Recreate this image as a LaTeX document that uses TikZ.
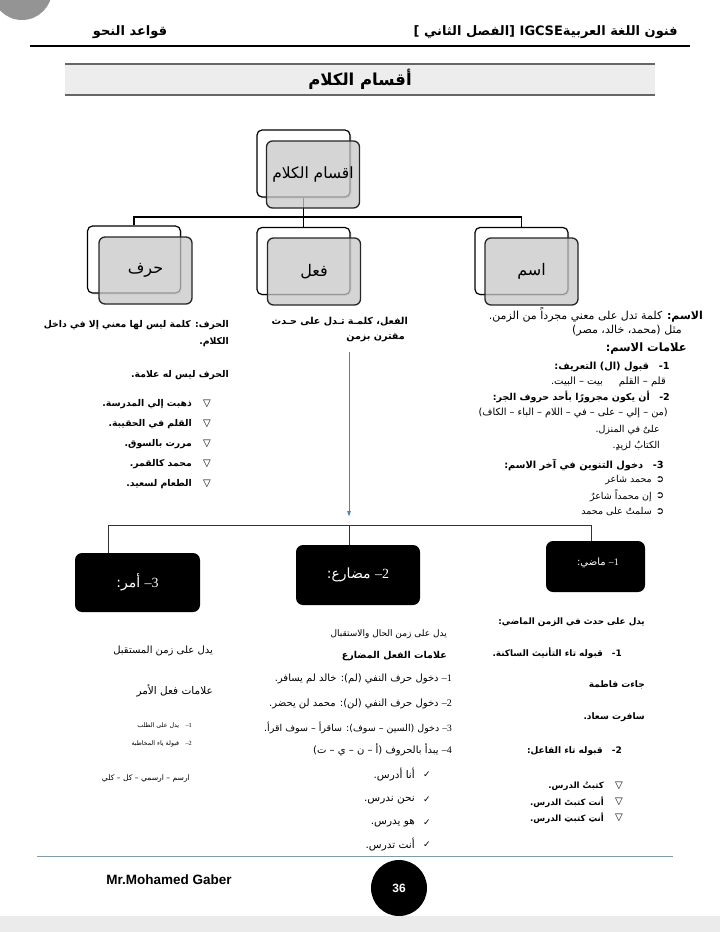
\documentclass[tikz,border=0pt]{standalone}
\usepackage{fontspec}
\setmainfont{Liberation Sans}
\newfontfamily\ar[Script=Arabic]{DejaVu Sans}
\newfontfamily\tms{Liberation Serif}
\newfontfamily\djv{DejaVu Sans}
\usetikzlibrary{arrows.meta,shadows}
\TeXXeTstate=1
\newcommand\RL[1]{\beginR #1\endR}
\newcommand\SN[1]{\hbox{\tms #1}}
\definecolor{steel}{HTML}{4F81BD}
\definecolor{footline}{HTML}{7F9AAA}
\tikzset{
  every node/.style={inner sep=0pt},
  fs/.style={font=\ar\fontsize{#1}{#1}\selectfont},
  fsb/.style={font=\ar\bfseries\fontsize{#1}{#1}\selectfont},
  rt/.style={anchor=east},
  conn/.style={draw=black, line width=1.1pt},
  thinconn/.style={draw=black!80, line width=0.7pt},
  backbox/.style={draw=black, line width=1.2pt, fill=white, rounded corners=5pt,
    minimum width=93pt, minimum height=67pt,
    drop shadow={shadow xshift=1.5pt, shadow yshift=-1.5pt, opacity=0.25}},
  frontbox/.style={draw=black!85, line width=1.3pt, fill=black!22, fill opacity=0.75,
    text opacity=1, rounded corners=6pt, minimum width=93pt, minimum height=67pt},
  blackbox/.style={fill=black, rounded corners=7pt, text=white},
  sym/.style={font=\djv\fontsize{#1}{#1}\selectfont},
}
\begin{document}
\begin{tikzpicture}[x=1pt,y=-1pt]
\useasboundingbox (0,0) rectangle (720,932);
\clip (0,0) rectangle (720,932);
\fill[white] (0,0) rectangle (720,932);
\fill[black!8] (0,916) rectangle (720,932);
\fill[black!42] (22,-10) circle[radius=30pt];

% header
\node[rt,fsb=13] (hdr1) at (678,32) {\RL{فنون اللغة العربيةIGCSE [الفصل الثاني ]}};
\node[fsb=13] (hdr2) at (130,32) {\RL{قواعد النحو}};
\coordinate (hl1) at (30,46); \coordinate (hl2) at (690,46);
\draw[line width=2.5pt] (hl1) -- (hl2);
\coordinate (tb1) at (65,64); \coordinate (tb2) at (655,95);
\fill[black!7] (tb1) rectangle (tb2);
\draw[black!60, line width=1.5pt] (tb1) -- (tb1 -| tb2);
\draw[black!60, line width=1.5pt] (tb1 |- tb2) -- (tb2);
\node[fsb=16.5] (ttl) at (360,79) {\RL{أقسام الكلام}};

% tree
\node[backbox] (kb) at (303.5,163.5) {};
\node[backbox] (hb) at (134,259.5) {};
\node[backbox] (fb) at (303.5,261) {};
\node[backbox] (ib) at (521.5,261) {};
\coordinate (bus1) at (0,217);
\draw[conn] (kb.south) -- (kb.south |- bus1);
\draw[conn] (hb.north) -- (hb.north |- bus1) -- (ib.north |- bus1) -- (ib.north);
\draw[conn] (fb.north) -- (fb.north |- bus1);
\node[frontbox,fs=15.5] (kf) at (313,174.5) {\RL{اقسام الكلام}};
\node[frontbox,fs=16] (hf) at (145.5,270.5) {\RL{حرف}};
\node[frontbox,fs=16] (ff) at (314,271.5) {\RL{فعل}};
\node[frontbox,fs=16] (if) at (531.5,271.5) {\RL{اسم}};

% right column (ism)
\node[rt,fs=11] (i1) at (703,315) {\RL{{\bfseries الاسم:} كلمة تدل على معني مجرداً من الزمن.}};
\node[rt,fs=11] (i2) at (682,331) {\RL{مثل (محمد، خالد، مصر)}};
\node[rt,fsb=11.5] (i3) at (687,349) {\RL{علامات الاسم:}};
\node[rt,fsb=9.8] (i4) at (670,367) {\RL{1-\quad قبول (ال) التعريف:}};
\node[rt,fs=10] (i5) at (666,382) {\RL{قلم – القلم\hspace{16pt}بيت – البيت.}};
\node[rt,fsb=9.5] (i6) at (670,397) {\RL{2-\quad أن يكون مجرورًا بأحد حروف الجر:}};
\node[rt,fs=9.8] (i7) at (668,413) {\RL{(من – إلي – على – في – اللام – الباء – الكاف)}};
\node[rt,fs=9.5] (i8) at (660,430) {\RL{علىٌ في المنزل.}};
\node[rt,fs=9.5] (i9) at (660,446) {\RL{الكتابُ لزيدٍ.}};
\node[rt,fsb=9.8] (i10) at (664,465) {\RL{3-\quad دخول التنوين في آخر الاسم:}};
\node[sym=10] (ib1) at (660,480) {➲};
\node[sym=10] (ib2) at (660,496) {➲};
\node[sym=10] (ib3) at (660,512) {➲};
\node[rt,fs=9.5] (i11) at (652,480) {\RL{محمد شاعر}};
\node[rt,fs=9.5] (i12) at (652,496) {\RL{إن محمداً شاعرٌ}};
\node[rt,fs=9.5] (i13) at (652,512) {\RL{سلمتُ على محمد}};

% left column (harf)
\node[rt,fsb=9.3] (h1) at (229,325) {\RL{الحرف: كلمة ليس لها معني إلا في داخل}};
\node[rt,fsb=9.3] (h2) at (229,342) {\RL{الكلام.}};
\node[rt,fsb=9.3] (h3) at (229,375) {\RL{الحرف ليس له علامة.}};
\foreach \yy/\nm in {404/hs1,424/hs2,444/hs3,464/hs4,484/hs5}
  \node[sym=10] (\nm) at (207,\yy) {▽};
\node[rt,fsb=9.3] (h4) at (192,404) {\RL{ذهبت إلي المدرسة.}};
\node[rt,fsb=9.3] (h5) at (192,424) {\RL{القلم في الحقيبة.}};
\node[rt,fsb=9.3] (h6) at (192,444) {\RL{مررت بالسوق.}};
\node[rt,fsb=9.3] (h7) at (192,464) {\RL{محمد كالقمر.}};
\node[rt,fsb=9.3] (h8) at (192,484) {\RL{الطعام لسعيد.}};

% middle column (fi'l)
\node[rt,fsb=9.6] (f1) at (408,322) {\RL{الفعل، كلمـة تـدل على حـدث}};
\node[rt,fsb=9.6] (f2) at (405,338) {\RL{مقترن بزمن}};
\coordinate (atop) at (349,352);
\coordinate (abot) at (349,517);
\draw[steel, line width=0.8pt, -{Latex[length=6pt,width=4pt]}] (atop) -- (abot);

% black boxes
\node[blackbox, minimum width=99pt, minimum height=51pt] (madi) at (595.5,566.5) {};
\node[text=white,fs=10] (madit) at (598,563) {\RL{\SN{–1} ماضي:}};
\node[blackbox, minimum width=124pt, minimum height=60pt, fs=14] (mud) at (358,575) {\RL{\SN{–2} مضارع:}};
\node[blackbox, minimum width=125pt, minimum height=59pt, fs=14] (amr) at (137.5,582.5) {\RL{\SN{–3} أمر:}};
\coordinate (b2l) at (108,525);
\coordinate (b2m) at (349,525);
\coordinate (b2r) at (591,525);
\draw[thinconn] (b2l) -- (b2r);
\draw[thinconn] (b2l) -- (b2l |- amr.north);
\draw[thinconn] (b2m) -- (b2m |- mud.north);
\draw[thinconn] (b2r) -- (b2r |- madi.north);

% madi column
\node[rt,fsb=8.8] (m1) at (645,622) {\RL{يدل على حدث في الزمن الماضي:}};
\node[rt,fsb=8.9] (m2) at (622,653) {\RL{1-\quad قبوله تاء التأنيث الساكنة.}};
\node[rt,fsb=9] (m3) at (645,685) {\RL{جاءت فاطمة}};
\node[rt,fsb=9] (m4) at (645,717) {\RL{سافرت سعاد.}};
\node[rt,fsb=9] (m5) at (622,751) {\RL{2-\quad قبوله تاء الفاعل:}};
\foreach \yy/\nm in {786/ms1,802/ms2,818/ms3}
  \node[sym=10] (\nm) at (619,\yy) {▽};
\node[rt,fsb=8.6] (m6) at (604,786) {\RL{كتبتُ الدرس.}};
\node[rt,fsb=8.6] (m7) at (604,802) {\RL{أنت كتبتَ الدرس.}};
\node[rt,fsb=8.6] (m8) at (604,818) {\RL{أنتِ كتبتِ الدرس.}};

% mudari column
\node[rt,fs=9] (d1) at (447,634) {\RL{يدل على زمن الحال والاستقبال}};
\node[rt,fsb=9.5] (d2) at (447,656) {\RL{علامات الفعل المضارع}};
\node[rt,fs=10] (d3) at (452,679) {\RL{\SN{–1} دخول حرف النفي (لم): خالد لم يسافر.}};
\node[rt,fs=10] (d4) at (452,704) {\RL{\SN{–2} دخول حرف النفي (لن): محمد لن يحضر.}};
\node[rt,fs=9.5] (d5) at (452,728) {\RL{\SN{–3} دخول (السين – سوف): ساقرأ – سوف اقرأ.}};
\node[rt,fs=10] (d6) at (452,750) {\RL{\SN{–4} يبدأ بالحروف (أ – ن – ي – ت)}};
\foreach \yy/\nm in {775/ds1,800/ds2,823/ds3,845/ds4}
  \node[sym=9] (\nm) at (427,\yy) {✓};
\node[rt,fs=10.5] (d7) at (415,775) {\RL{أنا أدرس.}};
\node[rt,fs=10.5] (d8) at (415,800) {\RL{نحن ندرس.}};
\node[rt,fs=10.5] (d9) at (415,823) {\RL{هو يدرس.}};
\node[rt,fs=10.5] (d10) at (415,845) {\RL{أنت تدرس.}};

% amr column
\node[rt,fs=10] (a1) at (213,651) {\RL{يدل على زمن المستقبل}};
\node[rt,fs=10.5] (a2) at (213,691) {\RL{علامات فعل الأمر}};
\node[rt,fs=6.3] (a3) at (192,726) {\RL{\SN{–1}\quad يدل على الطلب}};
\node[rt,fs=6.3] (a4) at (192,744) {\RL{\SN{–2}\quad قبولة ياء المخاطبة}};
\node[rt,fs=7.6] (a5) at (190,779) {\RL{ارسم – ارسمي – كل – كلي}};

% footer
\coordinate (fl1) at (37,856); \coordinate (fl2) at (673,856);
\draw[footline, line width=0.9pt] (fl1) -- (fl2);
\node[font=\bfseries\fontsize{13.5}{13.5}\selectfont] (auth) at (169,880) {Mr.Mohamed Gaber};
\node[circle, fill=black, minimum size=56pt, text=white, font=\bfseries\fontsize{12}{12}\selectfont] (pg) at (399,888) {36};
\end{tikzpicture}
\end{document}
